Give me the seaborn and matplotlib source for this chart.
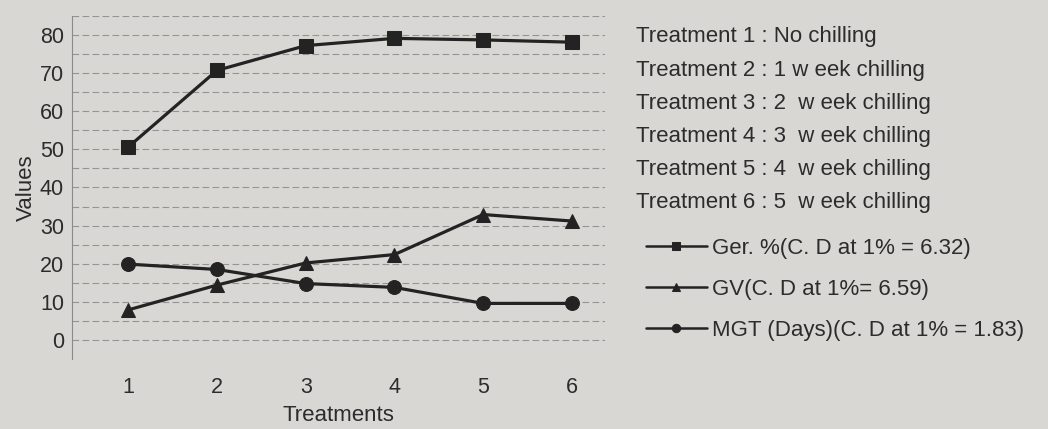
import pandas as pd
import numpy as np
from matplotlib import pyplot as plt
import seaborn as sns

treatments = [1, 2, 3, 4, 5, 6]
ger = [50.6, 70.7, 77.2, 79.1, 78.7, 78.1]
gv = [7.9, 14.4, 20.2, 22.4, 32.9, 31.2]
mgt = [19.9, 18.5, 14.8, 13.8, 9.6, 9.6]
series_names = ['Ger. %(C. D at 1% = 6.32)',
                'GV(C. D at 1%= 6.59)',
                'MGT (Days)(C. D at 1% = 1.83)']
treatment_notes = ['Treatment 1 : No chilling',
                   'Treatment 2 : 1 w eek chilling',
                   'Treatment 3 : 2  w eek chilling',
                   'Treatment 4 : 3  w eek chilling',
                   'Treatment 5 : 4  w eek chilling',
                   'Treatment 6 : 5  w eek chilling']

df = pd.DataFrame({
    'Treatment': treatments * 3,
    'Value': ger + gv + mgt,
    'Series': [series_names[0]] * 6 + [series_names[1]] * 6 + [series_names[2]] * 6,
})

sns.set_style("white")
plt.rcParams['font.family'] = ['Liberation Sans', 'DejaVu Sans']
bg = '#d8d7d4'
ink = '#232323'
txt = '#2c2c2c'

fig = plt.figure(figsize=(10.48, 4.29), dpi=100, facecolor=bg)
ax = fig.add_axes([0.069, 0.163, 0.508, 0.80], facecolor=bg)

sns.lineplot(data=df, x='Treatment', y='Value', style='Series', hue='Series',
             palette=[ink] * 3, markers=['s', '^', 'o'], dashes=False,
             markersize=10, linewidth=2.3, markeredgecolor=ink, ax=ax)

ax.set_xlim(0.37, 6.37)
ax.set_ylim(-5, 85)
ax.set_yticks(range(0, 81, 10))
ax.set_xticks(treatments)
ax.set_yticks(np.arange(0, 86, 5), minor=True)
ax.grid(axis='y', which='both', linestyle=(0, (6, 3)), color='#949494', linewidth=0.8)
for s in ['top', 'right', 'bottom']:
    ax.spines[s].set_visible(False)
ax.spines['left'].set_color('#8a8a8a')
ax.spines['left'].set_linewidth(0.8)
ax.tick_params(axis='both', length=0, labelsize=15.5, colors=txt)
ax.tick_params(axis='x', pad=13)
ax.tick_params(axis='y', pad=6)
ax.set_xlabel('Treatments', fontsize=16, color=txt, labelpad=5)
ax.set_ylabel('Values', fontsize=16, color=txt, labelpad=2)

leg = ax.legend(loc='upper left', bbox_to_anchor=(0.616, 0.446),
                bbox_transform=fig.transFigure, frameon=False,
                fontsize=16, handlelength=2.75, handletextpad=0.25,
                labelspacing=0.9, borderaxespad=0, borderpad=0)
for t in leg.get_texts():
    t.set_color(txt)
for h in leg.legend_handles:
    h.set_markersize(6)
    h.set_linewidth(1.8)

for i, note in enumerate(treatment_notes):
    fig.text(0.607, 0.914 - i * 0.0772, note, fontsize=16, color=txt,
             va='center', ha='left')

fig.savefig('out.png', dpi=100, facecolor=bg)
